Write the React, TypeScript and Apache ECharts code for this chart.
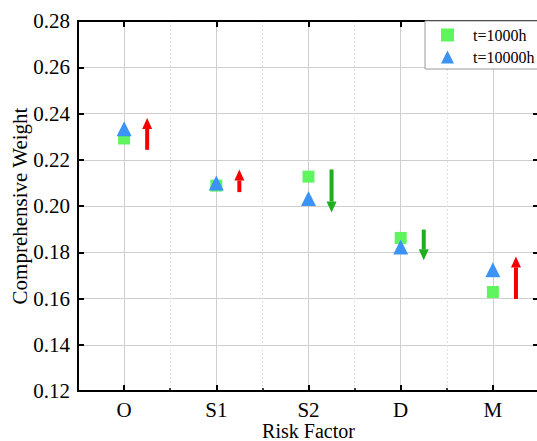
import React, { useEffect, useRef } from "react";
import * as echarts from "echarts";

const categories = ["O", "S1", "S2", "D", "M"];
const weight1000h = [0.2292, 0.2088, 0.2127, 0.1862, 0.1628];
const weight10000h = [0.2334, 0.2100, 0.2032, 0.1823, 0.1724];
const arrowStart = [0.2243, 0.2060, 0.2158, 0.1898, 0.1598];
const arrowEnd = [0.2381, 0.2158, 0.1972, 0.1765, 0.1782];
const yTicks = { min: 0.12, max: 0.28, interval: 0.02 };

const FONT = "Liberation Serif";

export default function App() {
  const ref = useRef<HTMLDivElement>(null);
  useEffect(() => {
    if (!ref.current) return;
    const chart = echarts.init(ref.current, null, { renderer: "svg" });
    const arrowData = categories.map((_, i) => [i, arrowStart[i], arrowEnd[i]]);
    const option: any = {
      animation: false,
      backgroundColor: "#fff",
      textStyle: { fontFamily: FONT },
      grid: { left: 78, top: 21, width: 461, height: 370, containLabel: false, outerBoundsMode: "none" },
      legend: {
        orient: "vertical",
        left: 425,
        top: 21,
        data: ["t=1000h", "t=10000h"],
        backgroundColor: "#fff",
        borderColor: "#9a9a9a",
        borderWidth: 1,
        borderRadius: 0,
        padding: [6, 40, 4, 16],
        itemGap: 6,
        itemWidth: 13,
        itemHeight: 13,
        textStyle: { fontFamily: FONT, fontSize: 16, color: "#000", padding: [0, 0, 0, 14] },
      },
      xAxis: [
        {
          type: "category",
          data: categories,
          position: "bottom",
          boundaryGap: true,
          name: "Risk Factor",
          nameLocation: "middle",
          nameGap: 30,
          nameMoveOverlap: false,
          nameTextStyle: { fontFamily: FONT, fontSize: 20, color: "#000" },
          axisLine: { show: true, lineStyle: { color: "#000", width: 2 } },
          axisTick: { show: true, inside: true, alignWithLabel: true, length: 6, lineStyle: { color: "#000", width: 2 } },
          axisLabel: { fontFamily: FONT, fontSize: 21, color: "#000", margin: 8 },
          splitLine: { show: true, alignWithLabel: true, lineStyle: { color: "#cfcfcf", width: 1 } },
        },
        {
          type: "category",
          data: categories,
          position: "bottom",
          boundaryGap: true,
          axisLine: { show: false },
          axisTick: { show: true, inside: true, length: 3, lineStyle: { color: "#000", width: 1.5 } },
          axisLabel: { show: false },
          splitLine: { show: true, lineStyle: { color: "#e2e2e2", width: 1, type: [2, 2] } },
        },
        {
          type: "category",
          data: categories,
          position: "top",
          boundaryGap: true,
          axisLine: { show: true, lineStyle: { color: "#000", width: 2 } },
          axisTick: { show: true, inside: true, alignWithLabel: true, length: 6, lineStyle: { color: "#000", width: 2 } },
          axisLabel: { show: false },
          splitLine: { show: false },
        },
      ],
      yAxis: [
        {
          type: "value",
          min: yTicks.min,
          max: yTicks.max,
          interval: yTicks.interval,
          position: "left",
          name: "Comprehensive Weight",
          nameLocation: "middle",
          nameGap: 48,
          nameMoveOverlap: false,
          nameTextStyle: { fontFamily: FONT, fontSize: 21, color: "#000" },
          axisLine: { show: true, lineStyle: { color: "#000", width: 2 } },
          axisTick: { show: true, inside: true, length: 6, lineStyle: { color: "#000", width: 2 } },
          axisLabel: {
            fontFamily: FONT,
            fontSize: 21,
            color: "#000",
            margin: 8,
            formatter: (v: number) => v.toFixed(2),
          },
          splitLine: { show: true, lineStyle: { color: "#cfcfcf", width: 1 } },
        },
        {
          type: "value",
          min: yTicks.min,
          max: yTicks.max,
          interval: yTicks.interval,
          position: "right",
          axisLine: { show: true, lineStyle: { color: "#000", width: 2 } },
          axisTick: { show: true, inside: true, length: 6, lineStyle: { color: "#000", width: 2 } },
          axisLabel: { show: false },
          splitLine: { show: false },
        },
      ],
      series: [
        {
          name: "t=1000h",
          type: "scatter",
          xAxisIndex: 0,
          yAxisIndex: 0,
          symbol: "rect",
          symbolSize: 12,
          itemStyle: { color: "#5ef55e", opacity: 1 },
          data: weight1000h,
          z: 3,
        },
        {
          name: "t=10000h",
          type: "scatter",
          xAxisIndex: 0,
          yAxisIndex: 0,
          symbol: "triangle",
          symbolSize: 15,
          itemStyle: { color: "#3b93f5", opacity: 1 },
          data: weight10000h,
          z: 4,
        },
        {
          name: "change",
          type: "custom",
          xAxisIndex: 0,
          yAxisIndex: 0,
          data: arrowData,
          z: 5,
          renderItem: (params: any, api: any) => {
            const i = api.value(0);
            const v0 = api.value(1);
            const v1 = api.value(2);
            const band = api.size([1, 0])[0];
            const p0 = api.coord([i, v0]);
            const p1 = api.coord([i, v1]);
            const x = p0[0] + band * 0.25;
            const up = v1 > v0;
            const color = up ? "#f50000" : "#1fae1f";
            const headLen = 11;
            const headHalf = 5;
            const shaftHalf = 2;
            const tipY = p1[1];
            const neckY = up ? tipY + headLen : tipY - headLen;
            const y0 = p0[1];
            return {
              type: "group",
              children: [
                {
                  type: "rect",
                  shape: { x: x - shaftHalf, y: Math.min(y0, neckY), width: shaftHalf * 2, height: Math.abs(y0 - neckY) },
                  style: { fill: color },
                },
                {
                  type: "polygon",
                  shape: { points: [[x, tipY], [x - headHalf, neckY], [x + headHalf, neckY]] },
                  style: { fill: color },
                },
              ],
            };
          },
        },
      ],
    };
    chart.setOption(option);
    return () => chart.dispose();
  }, []);
  return <div ref={ref} style={{ position: "fixed", left: 0, top: 0, width: 537, height: 441 }} />;
}
